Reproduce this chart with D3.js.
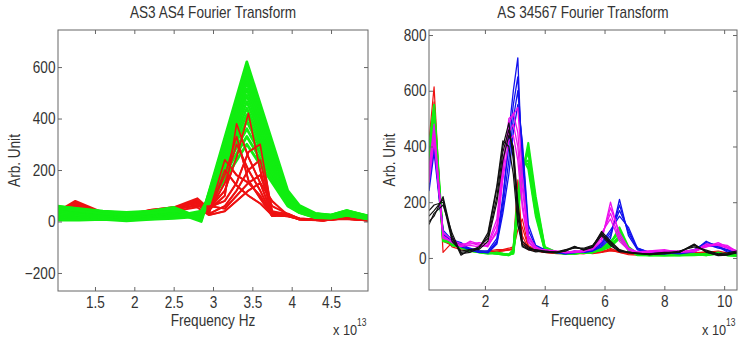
<!DOCTYPE html>
<html>
<head>
<meta charset="utf-8">
<script src="https://cdn.jsdelivr.net/npm/d3@7"></script>
<style>
  body { margin: 0; background: #fff; }
  svg text { font-family: "Liberation Sans", Arial, sans-serif; fill: #333; }
</style>
</head>
<body>
<svg id="chart" width="739" height="344"></svg>
<script>
// ---- left panel: AS3 AS4 ----
const leftTicksX = [1.5, 2, 2.5, 3, 3.5, 4, 4.5];
const leftTicksY = [-200, 0, 200, 400, 600];

const leftFreqGreen = [1.03, 1.3, 1.6, 1.9, 2.2, 2.5, 2.85, 3.43, 3.95, 4.1, 4.3, 4.5, 4.7, 4.97];
const leftGreen = [
  [55, 45, 35, 30, 35, 45, 10, 620, 120, 62, 32, 25, 42, 20],
  [50, 40, 32, 28, 30, 40, 5, 600, 110, 58, 28, 22, 38, 18],
  [60, 48, 38, 32, 38, 50, 15, 580, 105, 55, 30, 24, 40, 22],
  [45, 35, 28, 25, 28, 38, 0, 560, 100, 52, 30, 25, 42, 22],
  [58, 50, 40, 35, 40, 55, 12, 540, 95, 50, 27, 21, 37, 17],
  [40, 30, 25, 20, 25, 35, 8, 515, 90, 48, 26, 20, 36, 16],
  [52, 42, 30, 26, 32, 42, 18, 490, 88, 46, 25, 22, 35, 20],
  [35, 28, 22, 18, 22, 30, 20, 465, 85, 45, 24, 18, 34, 14],
  [30, 25, 20, 15, 20, 28, 25, 440, 80, 42, 22, 20, 32, 18],
  [25, 20, 18, 12, 18, 25, 30, 415, 75, 40, 20, 18, 30, 15],
  [20, 15, 15, 10, 15, 22, 35, 390, 70, 38, 18, 15, 28, 12],
  [15, 12, 12, 8, 12, 20, 40, 360, 68, 36, 17, 15, 27, 11],
  [10, 8, 10, 5, 10, 15, 30, 330, 65, 35, 16, 14, 25, 10],
  [5, 5, 8, 3, 8, 12, 20, 300, 60, 34, 15, 13, 24, 10]
];

const leftFreqRed = [1.03, 1.25, 1.6, 1.9, 2.2, 2.5, 2.8, 2.95, 3.15, 3.3, 3.45, 3.6, 3.75, 3.95, 4.1, 4.4, 4.65, 4.97];
const leftRed = [
  [40, 80, 35, 20, 45, 55, 90, 50, 120, 250, 420, 200, 30, 25, 10, 5, 15, 5],
  [35, 75, 30, 18, 42, 52, 85, 45, 100, 380, 250, 150, 28, 22, 12, 6, 14, 6],
  [30, 70, 32, 22, 40, 50, 80, 40, 150, 300, 200, 120, 25, 20, 10, 4, 12, 4],
  [25, 65, 28, 20, 38, 48, 75, 35, 240, 180, 150, 100, 22, 25, 8, 5, 15, 5],
  [45, 60, 35, 25, 45, 55, 70, 55, 80, 150, 270, 300, 35, 30, 10, 6, 16, 6],
  [20, 55, 25, 15, 35, 45, 65, 30, 60, 120, 200, 240, 40, 28, 12, 5, 12, 5],
  [50, 50, 30, 20, 40, 50, 60, 60, 50, 100, 150, 180, 60, 30, 10, 4, 14, 4],
  [15, 45, 22, 12, 30, 40, 55, 25, 40, 80, 120, 150, 80, 25, 8, 5, 10, 5],
  [30, 60, 28, 18, 38, 48, 80, 35, 200, 140, 100, 70, 25, 20, 10, 5, 12, 5],
  [35, 70, 30, 20, 40, 50, 85, 40, 180, 330, 160, 90, 22, 22, 8, 4, 14, 4]
];

// ---- right panel: AS 34567 ----
const rightTicksX = [2, 4, 6, 8, 10];
const rightTicksY = [0, 200, 400, 600, 800];

const rightFreq = [0.13, 0.3, 0.6, 0.9, 1.2, 1.5, 1.8, 2.1, 2.4, 2.6, 2.8, 2.95, 3.1, 3.25, 3.45, 3.7, 4.0, 4.4, 4.7, 5.0,
                   5.3, 5.6, 5.9, 6.2, 6.5, 6.8, 7.1, 7.5, 8.0, 8.5, 9.0, 9.4, 9.8, 10.1, 10.43];
const rightRed = [
  [420, 614, 20, 55, 35, 25, 20, 25, 30, 30, 35, 40, 280, 60, 30, 25, 20, 18, 15, 18, 20, 15, 20, 35, 20, 12, 10, 10, 12, 15, 15, 20, 25, 18, 15],
  [380, 560, 60, 45, 40, 30, 25, 20, 25, 28, 30, 35, 200, 80, 35, 25, 22, 20, 18, 15, 18, 20, 22, 30, 25, 15, 12, 10, 10, 12, 18, 22, 20, 15, 12],
  [350, 500, 80, 40, 30, 25, 22, 20, 22, 25, 28, 30, 150, 110, 40, 28, 20, 15, 15, 18, 15, 18, 20, 25, 22, 18, 12, 10, 12, 15, 20, 18, 18, 12, 10],
  [300, 450, 70, 50, 45, 30, 25, 22, 25, 25, 30, 32, 100, 140, 45, 30, 20, 18, 20, 15, 15, 20, 25, 28, 20, 15, 15, 12, 15, 15, 18, 20, 15, 15, 12]
];
const rightGreen = [
  [400, 550, 70, 50, 40, 30, 20, 15, 20, 15, 12, 15, 150, 300, 413, 220, 40, 20, 15, 20, 20, 25, 30, 50, 110, 40, 15, 10, 10, 10, 15, 10, 20, 10, 8],
  [390, 535, 65, 52, 38, 30, 22, 18, 18, 14, 11, 18, 165, 310, 395, 205, 38, 20, 16, 18, 20, 24, 32, 55, 100, 38, 15, 11, 10, 11, 13, 12, 18, 11, 9],
  [380, 520, 60, 55, 35, 30, 25, 20, 15, 12, 10, 20, 180, 320, 380, 190, 35, 20, 18, 15, 20, 22, 35, 60, 90, 35, 15, 12, 10, 12, 12, 15, 15, 12, 10],
  [350, 480, 80, 45, 40, 28, 22, 18, 15, 12, 10, 25, 200, 340, 350, 170, 30, 18, 15, 18, 18, 20, 30, 45, 80, 30, 12, 10, 10, 10, 10, 12, 18, 10, 8],
  [340, 460, 78, 48, 39, 26, 21, 18, 16, 13, 11, 28, 210, 350, 335, 160, 29, 20, 15, 16, 19, 20, 29, 42, 75, 29, 11, 10, 11, 10, 11, 11, 16, 11, 9],
  [330, 440, 75, 50, 38, 25, 20, 18, 18, 15, 12, 30, 220, 360, 320, 150, 28, 22, 15, 15, 20, 20, 28, 40, 70, 28, 10, 10, 12, 10, 12, 10, 15, 12, 10]
];
const rightBlue = [
  [300, 450, 90, 60, 50, 30, 20, 20, 60, 200, 450, 600, 718, 300, 60, 30, 25, 20, 15, 25, 20, 25, 40, 70, 210, 80, 30, 20, 15, 20, 25, 60, 40, 30, 20],
  [280, 420, 80, 70, 45, 35, 25, 25, 70, 220, 400, 550, 650, 350, 80, 35, 25, 22, 18, 22, 22, 25, 45, 80, 190, 90, 35, 20, 18, 20, 30, 55, 45, 25, 18],
  [260, 400, 100, 65, 55, 30, 20, 20, 55, 180, 350, 500, 600, 400, 100, 40, 28, 20, 20, 20, 20, 28, 50, 90, 170, 100, 30, 18, 15, 18, 28, 50, 35, 30, 15],
  [240, 380, 85, 60, 40, 30, 22, 18, 50, 160, 300, 450, 550, 420, 120, 45, 30, 18, 15, 18, 25, 30, 55, 100, 150, 110, 35, 20, 18, 15, 22, 45, 40, 22, 20]
];
const rightMagenta = [
  [320, 480, 70, 60, 40, 60, 50, 40, 100, 300, 500, 513, 540, 300, 80, 40, 25, 20, 20, 25, 25, 30, 60, 200, 80, 30, 20, 20, 25, 20, 30, 40, 55, 40, 25],
  [300, 460, 80, 55, 45, 55, 45, 45, 120, 330, 480, 520, 450, 250, 70, 35, 25, 22, 22, 20, 25, 35, 70, 180, 90, 35, 22, 25, 30, 20, 25, 45, 50, 45, 22],
  [290, 440, 90, 65, 50, 50, 55, 50, 140, 350, 450, 480, 400, 200, 60, 30, 28, 20, 20, 22, 28, 35, 80, 160, 70, 30, 20, 22, 25, 25, 25, 50, 45, 35, 20],
  [270, 420, 75, 58, 42, 45, 40, 45, 90, 280, 420, 440, 350, 180, 55, 30, 30, 25, 18, 20, 22, 40, 90, 140, 60, 28, 18, 25, 20, 22, 22, 40, 48, 38, 25]
];
const rightBlack = [
  [130, 150, 220, 80, 10, 30, 35, 80, 250, 400, 485, 350, 150, 40, 30, 30, 25, 20, 25, 40, 30, 40, 95, 60, 30, 20, 15, 12, 15, 20, 50, 20, 10, 15, 20],
  [150, 170, 210, 70, 20, 25, 40, 70, 220, 380, 460, 380, 180, 50, 35, 28, 22, 22, 30, 35, 35, 45, 85, 55, 28, 18, 15, 15, 18, 22, 45, 25, 12, 12, 22],
  [170, 190, 200, 60, 25, 30, 30, 60, 200, 350, 440, 400, 200, 60, 40, 25, 20, 18, 25, 38, 32, 42, 90, 50, 25, 20, 18, 12, 15, 25, 40, 28, 15, 18, 25],
  [120, 160, 190, 90, 15, 20, 35, 90, 260, 420, 400, 300, 120, 45, 30, 22, 25, 20, 28, 42, 28, 38, 80, 45, 22, 22, 16, 15, 20, 20, 48, 22, 8, 10, 18]
];

const svg = d3.select('#chart');
svg.append('rect').attr('width', 739).attr('height', 344).attr('fill', '#fff');

const squeeze = 'scale(0.85,1)';   // reference lettering is a condensed sans

function label(g, x, y, size, str, rot) {
  return g.append('text')
    .attr('transform', `translate(${x},${y})${rot ? ' rotate(-90)' : ''} ${squeeze}`)
    .attr('text-anchor', 'middle')
    .style('font-size', size + 'px')
    .text(str);
}

function panel(id, box, xDomain, yDomain, xTicks, yTicks, title, xLabel, ylabX) {
  const x = d3.scaleLinear().domain(xDomain).range([box.left, box.right]);
  const y = d3.scaleLinear().domain(yDomain).range([box.bottom, box.top]);
  const g = svg.append('g');

  g.append('clipPath').attr('id', id + '-clip')
    .append('rect')
    .attr('x', box.left).attr('y', box.top)
    .attr('width', box.right - box.left).attr('height', box.bottom - box.top);

  const plot = g.append('g').attr('clip-path', `url(#${id}-clip)`);

  const axisStyle = sel => {
    sel.select('.domain').remove();
    sel.selectAll('line').attr('stroke', '#666');
    sel.selectAll('text').style('font-size', '16px').attr('fill', '#333').attr('transform', squeeze);
  };

  g.append('g').attr('transform', `translate(0,${box.bottom})`)
    .call(d3.axisBottom(x).tickValues(xTicks).tickSize(-4).tickPadding(6).tickFormat(d3.format('')))
    .call(axisStyle);
  g.append('g').attr('transform', `translate(0,${box.top})`)
    .call(d3.axisTop(x).tickValues(xTicks).tickSize(-4).tickFormat(''))
    .call(axisStyle);
  g.append('g').attr('transform', `translate(${box.left},0)`)
    .call(d3.axisLeft(y).tickValues(yTicks).tickSize(-4).tickPadding(3).tickFormat(d3.format('')))
    .call(axisStyle);
  g.append('g').attr('transform', `translate(${box.right},0)`)
    .call(d3.axisRight(y).tickValues(yTicks).tickSize(-4).tickFormat(''))
    .call(axisStyle);

  g.append('rect')
    .attr('x', box.left).attr('y', box.top)
    .attr('width', box.right - box.left).attr('height', box.bottom - box.top)
    .attr('fill', 'none').attr('stroke', '#666').attr('stroke-width', 1);

  const cx = (box.left + box.right) / 2;
  label(g, cx, 18, 16, title);
  label(g, cx, 326, 16, xLabel);
  label(g, ylabX, (box.top + box.bottom) / 2, 16, 'Arb. Unit', true);

  const exp = g.append('text')
    .attr('transform', `translate(${box.right - 35},335) ${squeeze}`)
    .style('font-size', '15px');
  exp.append('tspan').text('x 10');
  exp.append('tspan').attr('dy', -9).style('font-size', '10px').text('13');

  return { x, y, plot };
}

function drawLines(p, freq, rows, color, width) {
  const line = d3.line().x((d, i) => p.x(freq[i])).y(d => p.y(d));
  p.plot.append('g').selectAll('path').data(rows).join('path')
    .attr('d', line)
    .attr('fill', 'none')
    .attr('stroke', color)
    .attr('stroke-width', width)
    .attr('stroke-linejoin', 'round');
}

// left panel
const L = panel('left', { left: 58, right: 368, top: 30, bottom: 291 },
  [1.03, 4.97], [-270, 744], leftTicksX, leftTicksY, 'AS3 AS4 Fourier Transform', 'Frequency Hz', 20);
drawLines(L, leftFreqRed, leftRed, '#ee1111', 2);
drawLines(L, leftFreqGreen, leftGreen, '#11ee11', 2.8);
// red fan shows above green around the peak
svg.append('clipPath').attr('id', 'fan-clip').append('rect')
  .attr('x', L.x(2.92)).attr('y', 30).attr('width', L.x(3.8) - L.x(2.92)).attr('height', 261);
L.plot = L.plot.append('g').attr('clip-path', 'url(#fan-clip)');
drawLines(L, leftFreqRed, leftRed, '#ee1111', 1.6);

// right panel
const R = panel('right', { left: 429, right: 737, top: 30, bottom: 290 },
  [0.13, 10.43], [-115, 818], rightTicksX, rightTicksY, 'AS 34567 Fourier Transform', 'Frequency', 395);
drawLines(R, rightFreq, rightRed, '#ee1111', 1.2);
drawLines(R, rightFreq, rightGreen, '#11ee11', 2);
drawLines(R, rightFreq, rightBlue, '#1111ee', 1.3);
drawLines(R, rightFreq, rightMagenta, '#ee11ee', 1.3);
drawLines(R, rightFreq, rightBlack, '#111111', 1.2);
</script>
</body>
</html>
